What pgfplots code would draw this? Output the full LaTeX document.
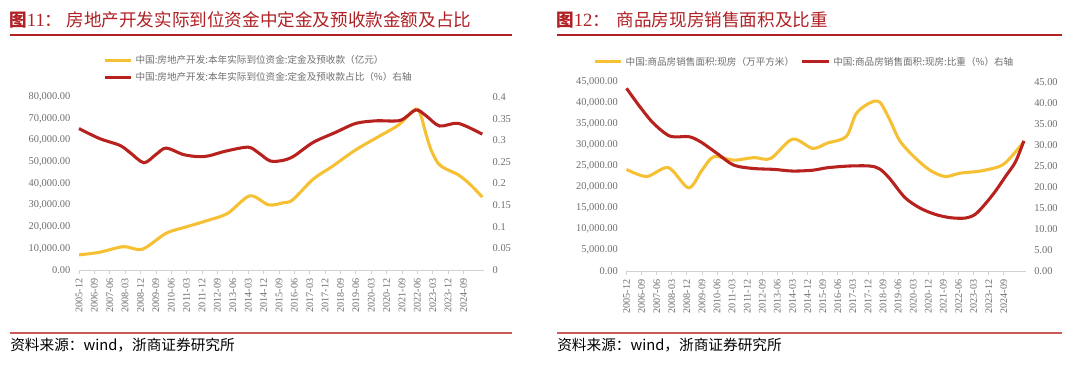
\documentclass[border=0pt]{standalone}
\usepackage{fontspec}
\setmainfont{Liberation Serif}
\newfontfamily\cjk{Noto Sans CJK SC}
\usepackage{pgfplots}
\usepackage{pgfplotstable}
\pgfplotsset{compat=1.18}
\definecolor{cy}{RGB}{246,192,52}
\definecolor{cr}{RGB}{183,33,30}
\definecolor{ttl}{RGB}{176,32,36}
\definecolor{gtxt}{RGB}{110,110,110}
\definecolor{gax}{RGB}{210,210,210}
\definecolor{bline}{RGB}{205,90,90}

\pgfplotstableread{
m v
0 7000
12 8200
26 10800
37 9600
51 17000
63 20000
76 23100
87 26200
100 34300
111 30100
120 31200
125 32400
137 42000
148 47800
162 55600
176 62000
187 67100
197 74400
200 71500
203 63000
206 55600
210 49500
214 47000
222 44000
229 39500
236 33700
}\leftY
\pgfplotstableread{
m v
0 0.327
12 0.304
24 0.288
30 0.271
38 0.248
45 0.267
51 0.282
61 0.267
70 0.262
76 0.264
86 0.275
99 0.284
105 0.271
112 0.252
120 0.254
126 0.264
137 0.295
150 0.318
162 0.339
174 0.345
188 0.346
197 0.370
203 0.357
211 0.333
222 0.339
236 0.314
}\leftR
\pgfplotstableread{
m v
0 24200
12 22500
25 24600
37 19800
45 24000
52 27200
64 26400
76 27000
86 26800
99 31400
111 29200
120 30500
131 32000
137 37500
145 40000
151 40200
157 36000
163 31000
172 27000
181 24000
190 22500
199 23300
211 23800
223 25000
229 27000
237 30800
}\rightY
\pgfplotstableread{
m v
0 43.5
8 39.1
16 35.2
26 32.1
37 32.0
44 30.8
54 28.0
64 25.2
76 24.4
88 24.2
99 23.8
111 24.0
120 24.6
133 25.0
145 25.0
151 24.3
157 22.0
166 17.5
175 15.0
184 13.5
193 12.7
202 12.6
208 13.5
214 16.0
220 19.0
226 22.5
232 26.0
237 31.0
}\rightR

\pgfplotsset{
  common/.style={
    scale only axis, anchor=south west,
    xmin=0, ymin=0,
    xtick={0,9,...,225},
    xticklabels={2005-12,2006-09,2007-06,2008-03,2008-12,2009-09,2010-06,2011-03,2011-12,2012-09,2013-06,2014-03,2014-12,2015-09,2016-06,2017-03,2017-12,2018-09,2019-06,2020-03,2020-12,2021-09,2022-06,2023-03,2023-12,2024-09},
    x tick label style={rotate=90, anchor=east, font=\fontsize{7.6}{8}\selectfont, text=gtxt},
    y tick label style={font=\fontsize{7.8}{9}\selectfont, text=gtxt},
    tick align=outside, major tick length=3pt,
    scaled y ticks=false,
    clip=false,
  },
  lefta/.style={common,
    axis x line*=bottom, x axis line style={gax, line width=0.75pt, -},
    xtick style={gax, line width=0.6pt},
    axis y line*=left, y axis line style={draw=none}, ytick style={draw=none},
  },
  righta/.style={common,
    axis x line=none,
    axis y line*=right, y axis line style={draw=none}, ytick style={draw=none},
  },
  ln/.style={smooth, tension=0.5, line width=2.3pt, no marks},
  legend image code/.code={\draw[#1] (0pt,0pt) -- (20pt,0pt);},
}

\begin{document}
\begin{tikzpicture}
\def\u{0.75pt}
\begin{scope}[x=\u, y=-\u]
\useasboundingbox (0,0) rectangle (1080,368);
% titles
\node[anchor=west, inner sep=0pt, text=ttl] at (9,20) {{\cjk\bfseries\fontsize{13.2}{14}\selectfont 图}{\fontsize{14}{14}\selectfont 11}{\cjk\fontsize{13.2}{14}\selectfont ：\hspace{3pt}房地产开发实际到位资金中定金及预收款金额及占比}};
\node[anchor=west, inner sep=0pt, text=ttl] at (556,20) {{\cjk\bfseries\fontsize{13.2}{14}\selectfont 图}{\fontsize{14}{14}\selectfont 12}{\cjk\fontsize{13.2}{14}\selectfont ：\hspace{5pt}商品房现房销售面积及比重}};
\draw[ttl, line width=0.8pt] (10,35) -- (512,35);
\draw[ttl, line width=0.8pt] (557,35) -- (1062,35);
% bottom
\draw[bline, line width=0.8pt] (10,333) -- (512,333);
\draw[bline, line width=0.8pt] (557,333) -- (1062,333);
\node[anchor=west, inner sep=0pt] at (10,345) {\cjk\fontsize{11}{12}\selectfont 资料来源：wind，浙商证券研究所};
\node[anchor=west, inner sep=0pt] at (557,345) {\cjk\fontsize{11}{12}\selectfont 资料来源：wind，浙商证券研究所};
\end{scope}

% ---------- left chart ----------
\begin{axis}[lefta,
  at={({79*\u},{-270*\u})}, width=303.75pt, height=129.75pt,
  xmax=237, ymax=80000, ytick={0,10000,...,80000},
  y tick label style={/pgf/number format/.cd, fixed, fixed zerofill, precision=2, 1000 sep={,}, assume math mode=true},
]
\addplot[ln, cy] table[x=m, y=v] {\leftY};
\end{axis}
\begin{axis}[righta,
  at={({79*\u},{-270*\u})}, width=303.75pt, height=129.75pt,
  xmax=237, ymax=0.4,
  ytick={0,0.05,0.1,0.15,0.2,0.25,0.3,0.35,0.4},
  yticklabels={0,0.05,0.1,0.15,0.2,0.25,0.3,0.35,0.4},
  legend style={draw=none, fill=none, at={(0.059,1.258)}, anchor=north west,
    font=\cjk\fontsize{7.2}{8}\selectfont, text=gtxt, inner sep=0pt, row sep=1pt},
  legend cell align=left,
]
\addlegendimage{ln, cy}
\addlegendentry{中国:房地产开发:本年实际到位资金:定金及预收款（亿元）}
\addplot[ln, cr] table[x=m, y=v] {\leftR};
\addlegendentry{中国:房地产开发:本年实际到位资金:定金及预收款占比（\%）右轴}
\end{axis}

% ---------- right chart ----------
\begin{axis}[lefta,
  at={({626.5*\u},{-271*\u})}, width=299.3pt, height=141.75pt,
  xmax=238, ymax=45000, ytick={0,5000,...,45000},
  y tick label style={/pgf/number format/.cd, fixed, fixed zerofill, precision=2, 1000 sep={,}, assume math mode=true},
]
\addplot[ln, cy] table[x=m, y=v] {\rightY};
\end{axis}
\begin{axis}[righta,
  at={({626.5*\u},{-271*\u})}, width=299.3pt, height=141.75pt,
  xmax=238, ymax=45, ytick={0,5,...,45},
  y tick label style={/pgf/number format/.cd, fixed, fixed zerofill, precision=2, assume math mode=true},
  legend style={draw=none, fill=none, at={(-0.084,1.149)}, anchor=north west,
    font=\cjk\fontsize{7.2}{8}\selectfont, text=gtxt, inner sep=0pt,
    /tikz/every even column/.append style={column sep=3pt}},
  legend columns=2,
  legend cell align=left,
]
\addlegendimage{ln, cy}
\addlegendentry{中国:商品房销售面积:现房（万平方米）}
\addplot[ln, cr] table[x=m, y=v] {\rightR};
\addlegendentry{中国:商品房销售面积:现房:比重（\%）右轴}
\end{axis}
\end{tikzpicture}
\end{document}
